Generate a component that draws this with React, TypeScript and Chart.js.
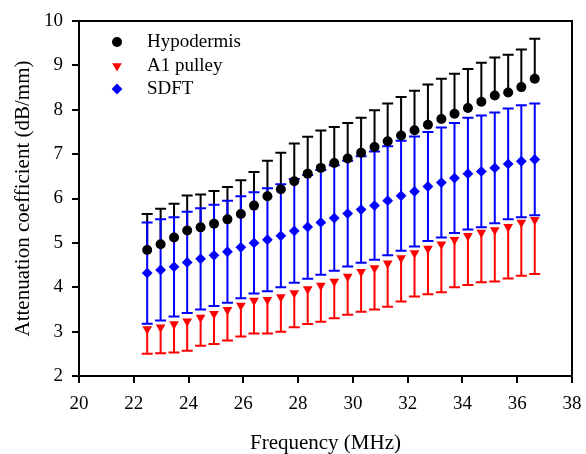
import { useEffect, useRef } from 'react';
import { Chart, registerables } from 'chart.js';

Chart.register(...registerables);

// ---- Data ----
const frequencies = [
  22.49, 22.98, 23.47, 23.95, 24.44, 24.93, 25.42, 25.91, 26.39, 26.88,
  27.37, 27.86, 28.35, 28.83, 29.32, 29.81, 30.30, 30.79, 31.27, 31.76,
  32.25, 32.74, 33.23, 33.71, 34.20, 34.69, 35.18, 35.67, 36.15, 36.64,
];

const hypodermisMean = [
  4.84, 4.97, 5.12, 5.28, 5.35, 5.43, 5.53, 5.65, 5.84, 6.05,
  6.21, 6.39, 6.56, 6.69, 6.80, 6.90, 7.03, 7.16, 7.29, 7.42,
  7.54, 7.66, 7.79, 7.91, 8.04, 8.18, 8.32, 8.39, 8.51, 8.70,
];
const hypodermisErr = [
  0.81, 0.80, 0.76, 0.79, 0.74, 0.74, 0.73, 0.76, 0.76, 0.80,
  0.82, 0.85, 0.83, 0.84, 0.81, 0.80, 0.79, 0.83, 0.85, 0.87,
  0.89, 0.91, 0.91, 0.90, 0.88, 0.88, 0.86, 0.85, 0.85, 0.90,
];

const a1PulleyMean = [
  3.06, 3.10, 3.17, 3.23, 3.32, 3.40, 3.49, 3.59, 3.70, 3.72,
  3.78, 3.87, 3.96, 4.04, 4.13, 4.24, 4.35, 4.43, 4.54, 4.66,
  4.77, 4.87, 4.97, 5.07, 5.16, 5.23, 5.29, 5.36, 5.46, 5.52,
];
const a1PulleyErr = [
  0.56, 0.59, 0.64, 0.66, 0.64, 0.68, 0.69, 0.70, 0.74, 0.76,
  0.78, 0.77, 0.79, 0.82, 0.83, 0.86, 0.90, 0.93, 0.98, 0.98,
  0.98, 1.03, 1.08, 1.07, 1.11, 1.12, 1.16, 1.16, 1.20, 1.22,
];

const sdftMean = [
  4.32, 4.39, 4.46, 4.56, 4.64, 4.72, 4.80, 4.90, 5.00, 5.07,
  5.16, 5.27, 5.36, 5.46, 5.56, 5.66, 5.75, 5.84, 5.95, 6.06,
  6.16, 6.27, 6.36, 6.46, 6.56, 6.61, 6.69, 6.78, 6.84, 6.88,
];
const sdftErr = [
  1.14, 1.14, 1.12, 1.14, 1.14, 1.14, 1.15, 1.15, 1.14, 1.16,
  1.16, 1.17, 1.17, 1.18, 1.19, 1.19, 1.20, 1.22, 1.23, 1.24,
  1.24, 1.23, 1.24, 1.24, 1.26, 1.26, 1.25, 1.25, 1.26, 1.26,
];

const seriesLabels = ['Hypodermis', 'A1 pulley', 'SDFT'];
const xTitle = 'Frequency (MHz)';
const yTitle = 'Attenuation coefficient (dB/mm)';

const FONT = "'Liberation Serif', 'Times New Roman', serif";
const COLORS = ['#000000', '#ff0000', '#0000ff'];

const toPoints = (ys: number[]) => frequencies.map((x, i) => ({ x, y: ys[i] }));

const errorBarPlugin = {
  id: 'errorBars',
  beforeDatasetsDraw(chart: any) {
    const ctx = chart.ctx;
    const yScale = chart.scales.y;
    const cap = 5.5;
    ctx.save();
    ctx.lineWidth = 2;
    chart.data.datasets.forEach((ds: any, i: number) => {
      const meta = chart.getDatasetMeta(i);
      ctx.strokeStyle = ds.borderColor;
      meta.data.forEach((el: any, j: number) => {
        const v = ds.data[j].y;
        const x = el.x;
        const y0 = el.y;
        ctx.beginPath();
        if (ds.errUp) {
          const yt = yScale.getPixelForValue(v + ds.errUp[j]);
          ctx.moveTo(x, y0);
          ctx.lineTo(x, yt);
          ctx.moveTo(x - cap, yt);
          ctx.lineTo(x + cap, yt);
        }
        if (ds.errDown) {
          const yb = yScale.getPixelForValue(v - ds.errDown[j]);
          ctx.moveTo(x, y0);
          ctx.lineTo(x, yb);
          ctx.moveTo(x - cap, yb);
          ctx.lineTo(x + cap, yb);
        }
        ctx.stroke();
      });
    });
    ctx.restore();
  },
};

const framePlugin = {
  id: 'frame',
  afterDraw(chart: any) {
    const { ctx, chartArea } = chart;
    ctx.save();
    ctx.strokeStyle = '#000';
    ctx.lineWidth = 2;
    ctx.beginPath();
    ctx.moveTo(chartArea.left, chartArea.top);
    ctx.lineTo(chartArea.right, chartArea.top);
    ctx.lineTo(chartArea.right, chartArea.bottom);
    ctx.stroke();

    // legend inside plot, top-left
    const mx = 117;
    const tx = 147;
    const rows = [42, 66, 89];
    ctx.font = `19px ${FONT}`;
    ctx.textBaseline = 'middle';
    ctx.textAlign = 'left';
    rows.forEach((ry, i) => {
      ctx.fillStyle = COLORS[i];
      ctx.beginPath();
      if (i === 0) {
        ctx.arc(mx, ry, 5, 0, Math.PI * 2);
      } else if (i === 1) {
        const r = 5.6;
        ctx.moveTo(mx, ry + r);
        ctx.lineTo(mx + r * Math.sin((2 * Math.PI) / 3), ry - r / 2);
        ctx.lineTo(mx - r * Math.sin((2 * Math.PI) / 3), ry - r / 2);
        ctx.closePath();
      } else {
        const r = 5.4;
        ctx.moveTo(mx, ry - r);
        ctx.lineTo(mx + r, ry);
        ctx.lineTo(mx, ry + r);
        ctx.lineTo(mx - r, ry);
        ctx.closePath();
      }
      ctx.fill();
      ctx.fillStyle = '#000';
      ctx.fillText(seriesLabels[i], tx, ry);
    });
    ctx.restore();
  },
};

export default function App() {
  const canvasRef = useRef<HTMLCanvasElement | null>(null);

  useEffect(() => {
    if (!canvasRef.current) return;
    const tickFont = { family: FONT, size: 19 };
    const titleFont = { family: FONT, size: 21 };
    const chart = new Chart(canvasRef.current, {
      type: 'scatter',
      data: {
        datasets: [
          {
            label: seriesLabels[0],
            data: toPoints(hypodermisMean),
            pointStyle: 'circle',
            pointRadius: 5,
            backgroundColor: COLORS[0],
            borderColor: COLORS[0],
            pointBorderWidth: 0,
            errUp: hypodermisErr,
          } as any,
          {
            label: seriesLabels[1],
            data: toPoints(a1PulleyMean),
            pointStyle: 'triangle',
            rotation: 180,
            pointRadius: 5.6,
            backgroundColor: COLORS[1],
            borderColor: COLORS[1],
            pointBorderWidth: 0,
            errDown: a1PulleyErr,
          } as any,
          {
            label: seriesLabels[2],
            data: toPoints(sdftMean),
            pointStyle: 'rectRot',
            pointRadius: 5.4,
            backgroundColor: COLORS[2],
            borderColor: COLORS[2],
            pointBorderWidth: 0,
            errUp: sdftErr,
            errDown: sdftErr,
          } as any,
        ],
      },
      options: {
        animation: false,
        responsive: false,
        maintainAspectRatio: false,
        devicePixelRatio: 1,
        layout: { padding: { top: 21, right: 14, left: 0, bottom: 0 } },
        plugins: {
          legend: { display: false },
          tooltip: { enabled: false },
        },
        scales: {
          x: {
            type: 'linear',
            min: 20,
            max: 38,
            ticks: { stepSize: 2, font: tickFont, color: '#000', padding: 10, maxRotation: 0 },
            grid: {
              display: true,
              drawOnChartArea: false,
              drawTicks: true,
              tickLength: 7,
              color: '#000',
              lineWidth: 2,
            },
            border: { display: true, color: '#000', width: 2 },
            title: {
              display: true,
              text: xTitle,
              font: titleFont,
              color: '#000',
              padding: { top: 0, bottom: -2 },
            },
            afterFit: (s: any) => {
              s.height = 78;
              s.paddingLeft = 0;
              s.paddingRight = 0;
            },
          },
          y: {
            type: 'linear',
            min: 2,
            max: 10,
            ticks: { stepSize: 1, font: tickFont, color: '#000', padding: 9 },
            grid: {
              display: true,
              drawOnChartArea: false,
              drawTicks: true,
              tickLength: 7,
              color: '#000',
              lineWidth: 2,
            },
            border: { display: true, color: '#000', width: 2 },
            title: {
              display: true,
              text: yTitle,
              font: titleFont,
              color: '#000',
              padding: { top: 11, bottom: 0 },
            },
            afterFit: (s: any) => {
              s.width = 79;
              s.paddingTop = 0;
              s.paddingBottom = 0;
            },
          },
        },
      } as any,
      plugins: [errorBarPlugin, framePlugin],
    });
    return () => chart.destroy();
  }, []);

  return (
    <div style={{ position: 'fixed', left: 0, top: 0, width: 586, height: 454, background: '#fff' }}>
      <canvas ref={canvasRef} width={586} height={454} style={{ width: 586, height: 454, display: 'block' }} />
    </div>
  );
}
